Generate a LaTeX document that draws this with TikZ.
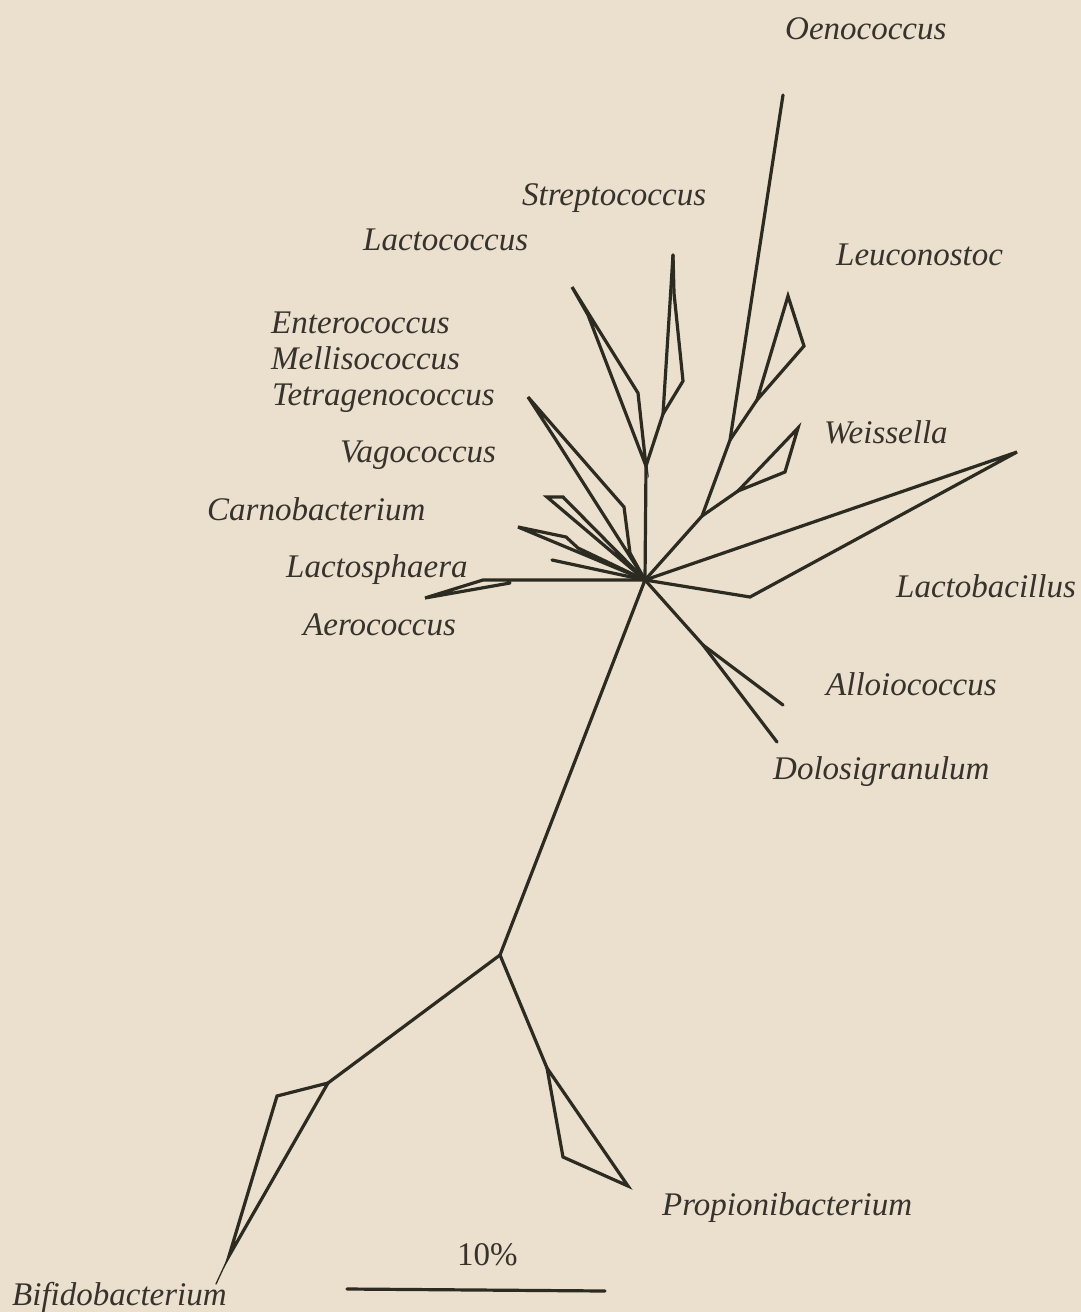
\documentclass[tikz,border=0pt]{standalone}
\usepackage{fontspec}
\setmainfont{Liberation Serif}
\usepackage{xcolor}
\usetikzlibrary{positioning}
\definecolor{trpaper}{HTML}{EBDFCE}
\definecolor{trink}{HTML}{2C2B21}
\definecolor{trtext}{HTML}{36322C}

\begin{document}
\begin{tikzpicture}[
  x=1pt,y=-1pt,
  branch/.style={draw=trink,line width=3.2pt,line join=miter,line cap=round},
  twig/.style={draw=trink,line width=1.3pt,line cap=round},
  taxon/.style={anchor=base west,inner sep=0pt,text=trtext,font=\fontsize{33}{36}\selectfont\itshape},
]
% page and paper colour
\fill[trpaper] (0,0) rectangle (1081,1312);
\useasboundingbox (0,0) rectangle (1081,1312);

% branch points and tips
\coordinate (hub) at (645,580);
\coordinate (root) at (500,955);
\coordinate (bif) at (328,1083);
\coordinate (bifa) at (277,1096);
\coordinate (biftip) at (229,1256);
\coordinate (bifend) at (216,1284);
\coordinate (pro) at (547,1068);
\coordinate (proa) at (563,1157);
\coordinate (protip) at (628,1186);
\coordinate (wn) at (702,516);
\coordinate (wei) at (738,491);
\coordinate (weia) at (785,472);
\coordinate (weitip) at (798,428);
\coordinate (ln) at (730,440);
\coordinate (leu) at (757,400);
\coordinate (leua) at (804,346);
\coordinate (leutip) at (788,296);
\coordinate (oen) at (783,95);
\coordinate (sn) at (646,466);
\coordinate (lac) at (638,393);
\coordinate (lactip) at (572,287);
\coordinate (laca) at (588,315);
\coordinate (str) at (663,414);
\coordinate (stra) at (683,381);
\coordinate (strb) at (674,293);
\coordinate (strtip) at (673,255);
\coordinate (ent) at (630,553);
\coordinate (enta) at (624,507);
\coordinate (enttip) at (528,397);
\coordinate (entb) at (556,440);
\coordinate (cartip) at (547,497);
\coordinate (cara) at (563,497);
\coordinate (vag) at (578,548);
\coordinate (vaga) at (566,537);
\coordinate (vagtip) at (518,527);
\coordinate (lsp) at (552,560);
\coordinate (aer) at (510,583);
\coordinate (aera) at (483,580);
\coordinate (aertip) at (425,598);
\coordinate (lbtip) at (1017,452);
\coordinate (lba) at (750,597);
\coordinate (ad) at (703,645);
\coordinate (allo) at (783,705);
\coordinate (dolo) at (777,742);
\coordinate (sca) at (347,1289);
\coordinate (scb) at (605,1291);

% lower part of the tree
\draw[branch] (hub) -- (root);
\draw[branch] (root) -- (bif);
\draw[branch] (bif) -- (bifa) -- (biftip) -- cycle;
\draw[twig] (biftip) -- (bifend);
\draw[branch] (root) -- (pro);
\draw[branch] (pro) -- (proa) -- (protip) -- cycle;

% right side
\draw[branch] (hub) -- (wn) -- (ln) -- (oen);
\draw[branch] (wn) -- (wei);
\draw[branch] (wei) -- (weitip) -- (weia) -- cycle;
\draw[branch] (ln) -- (leu);
\draw[branch] (leu) -- (leutip) -- (leua) -- cycle;
\draw[branch] (hub) -- (lbtip) -- (lba) -- cycle;
\draw[branch] (hub) -- (ad) -- (allo);
\draw[branch] (ad) -- (dolo);

% upper left fan
\draw[branch] (hub) -- (sn);
\draw[branch] (sn) -- (lac) -- (lactip) -- (laca) -- cycle;
\draw[branch] (sn) -- (str) -- (strtip);
\draw[branch] (str) -- (stra) -- (strb) -- (strtip);
\draw[branch] (hub) -- (ent) -- (enta) -- (enttip) -- (entb) -- (hub);
\draw[branch] (hub) -- (cartip) -- (cara) -- cycle;
\draw[branch] (hub) -- (vagtip) -- (vaga) -- (vag) -- cycle;
\draw[branch] (hub) -- (lsp);
\draw[branch] (hub) -- (aera) -- (aertip) -- (aer);

% genus names
\foreach \x/\y/\name/\txt in {
  785/39/oenl/Oenococcus, 522/205/strl/Streptococcus, 363/250/lacl/Lactococcus,
  836/265/leul/Leuconostoc, 271/333/entl/Enterococcus, 271/369/mell/Mellisococcus,
  272/405/tetl/Tetragenococcus, 824/443/weil/Weissella, 340/462/vagl/Vagococcus,
  207/520/carl/Carnobacterium, 286/577/lspl/Lactosphaera, 896/597/lbl/Lactobacillus,
  303/635/aerl/Aerococcus, 826/695/allol/Alloiococcus, 773/779/dolol/Dolosigranulum,
  662/1215/prol/Propionibacterium, 12/1305/bifl/Bifidobacterium}
  {
    \node[taxon] (\name) at (\x,\y) {\txt};
  }

% scale bar
\draw[branch] (sca) -- (scb);
\node[anchor=base west,inner sep=0pt,text=trtext,font=\fontsize{33}{36}\selectfont] (scl) at (457,1265) {10\%};
\end{tikzpicture}
\end{document}
